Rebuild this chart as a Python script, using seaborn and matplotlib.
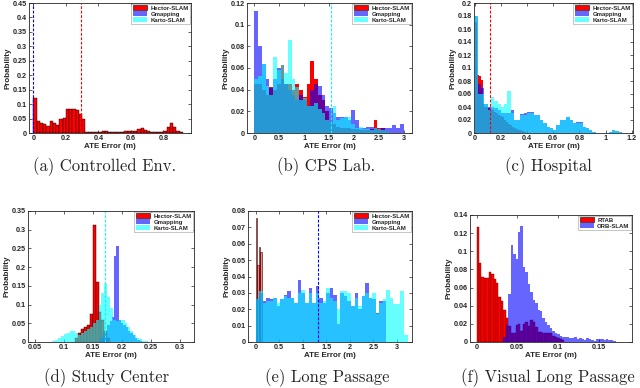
import numpy as np
import pandas as pd
import matplotlib
matplotlib.use("Agg")
import matplotlib.pyplot as plt
import seaborn as sns
from matplotlib.patches import Patch
from matplotlib.ticker import FuncFormatter

# ---- data: probability per bin (bin start / width given where drawn) ----
# (a) Controlled Env.
a_hector = [0.12, 0.04, 0.035, 0.03, 0.025, 0.04, 0.035, 0.027, 0.047, 0.052, 0.083, 0.083,
            0.083, 0.078, 0.065, 0.05, 0.004, 0.004, 0.003, 0.004, 0.004, 0.006, 0.008, 0.005,
            0.003, 0.003, 0.004, 0.003, 0.008, 0.007, 0.006, 0.007, 0.013, 0.016, 0.012, 0.006,
            0.003, 0.004, 0.002, 0.003, 0.006, 0.02, 0.033, 0.022, 0.008, 0.002]

# (b) CPS Lab.
b_hector = [0.045, 0.045, 0.04, 0.035, 0.042, 0.04, 0.045, 0.063, 0.045, 0.045, 0.04, 0.045,
            0.04, 0.033, 0.045, 0.066, 0.05, 0.035, 0.03, 0.02, 0.01, 0.008, 0.006, 0.005,
            0.005, 0.005, 0.004, 0.004, 0.003, 0.003, 0.003, 0.004, 0.012, 0.005, 0.005, 0.002]
b_gmapping = [0.113, 0.08, 0.064, 0.05, 0.042, 0.05, 0.06, 0.05, 0.045, 0.04, 0.035, 0.03,
              0.035, 0.03, 0.025, 0.04, 0.045, 0.043, 0.035, 0.025, 0.023, 0.018, 0.015, 0.015,
              0.015, 0.012, 0.021, 0.012, 0.005, 0.005, 0.006, 0.006, 0.005, 0.004, 0.005, 0.005,
              0.005, 0.007, 0.005, 0.008]
b_karto = [0.05, 0.053, 0.064, 0.043, 0.035, 0.07, 0.058, 0.063, 0.055, 0.086, 0.05, 0.042,
           0.03, 0.032, 0.025, 0.025, 0.028, 0.022, 0.018, 0.012, 0.01, 0.025, 0.012, 0.014,
           0.015, 0.015, 0.008, 0.005, 0.006, 0.004, 0.004, 0.003, 0.005, 0.004, 0.003, 0.002]

# (c) Hospital
c_hector = [0.17, 0.09, 0.087, 0.082, 0.045, 0.04, 0.04, 0.038, 0.036, 0.035, 0.033, 0.03,
            0.028, 0.026, 0.024, 0.02, 0.017, 0.014, 0.012, 0.01, 0.008, 0.006, 0.005, 0.004,
            0.003, 0.002]
c_gmapping = [0.178, 0.076, 0.07, 0.045, 0.04, 0.04, 0.038, 0.035, 0.03, 0.03, 0.03, 0.035,
              0.02, 0.02, 0.029, 0.03, 0.032, 0.032, 0.028, 0.028, 0.02, 0.015, 0.01, 0.007,
              0.005, 0.012, 0.02, 0.02, 0.024, 0.02, 0.015, 0.017, 0.017, 0.01, 0.007, 0.004,
              0.002, 0, 0, 0, 0, 0.002, 0.005, 0.003, 0.001]
c_karto = [0.18, 0.06, 0.06, 0.045, 0.035, 0.055, 0.05, 0.045, 0.04, 0.045, 0.064, 0.03,
           0.02, 0.02, 0.027, 0.028, 0.031, 0.031, 0.027, 0.028, 0.02, 0.015, 0.01, 0.007,
           0.005, 0.012, 0.02, 0.02, 0.024, 0.02, 0.015, 0.016, 0.016, 0.01, 0.007, 0.004,
           0.002, 0, 0, 0, 0, 0.002, 0.004, 0.003, 0.001]

# (d) Study Center
d_hector = [0.01, 0.025, 0.035, 0.04, 0.045, 0.075, 0.313, 0.16, 0.08, 0.06, 0.03, 0.01]
d_gmapping = [0.01, 0.02, 0.03, 0.045, 0.055, 0.068, 0.229, 0.257, 0.06, 0.05, 0.045, 0.04,
              0.03, 0.025, 0.018, 0.012, 0.006, 0.003]
d_karto = [0.002, 0.005, 0.01, 0.015, 0.022, 0.025, 0.03, 0.03, 0.025, 0.02, 0.025, 0.03,
           0.035, 0.04, 0.05, 0.06, 0.1, 0.13, 0.155, 0.12, 0.09, 0.06, 0.055, 0.06, 0.06,
           0.05, 0.04, 0.03, 0.02, 0.012, 0.007, 0.004, 0.002]

# (e) Long Passage
e_hector = [0.076, 0.047, 0.058, 0.055]
e_gmapping = [0.026, 0.03, 0.025, 0.027, 0.026, 0.027, 0.022, 0.026, 0.029, 0.031, 0.027, 0.024,
              0.038, 0.03, 0.024, 0.033, 0.024, 0.034, 0.027, 0.024, 0.03, 0.033, 0.029, 0.011,
              0.03, 0.028, 0.025, 0.022, 0.03, 0.02, 0.028, 0.036, 0.027, 0.026, 0.018, 0.025,
              0.025]
e_karto = [0.026, 0.031, 0.024, 0.025, 0.025, 0.027, 0.024, 0.026, 0.028, 0.027, 0.027, 0.024,
           0.03, 0.032, 0.024, 0.03, 0.024, 0.03, 0.024, 0.025, 0.033, 0.027, 0.025, 0.02,
           0.031, 0.031, 0.03, 0.022, 0.027, 0.022, 0.028, 0.03, 0.027, 0.03, 0.017, 0.024,
           0.026, 0.032, 0.027, 0.023, 0.023, 0.031, 0.004]

# (f) Visual Long Passage
f_rtab = [0.127, 0.087, 0.072, 0.071, 0.071, 0.077, 0.075, 0.07, 0.065, 0.05, 0.045, 0.035,
          0.027, 0.018, 0.01, 0.01, 0.019, 0.02, 0.012, 0.02, 0.022, 0.018, 0.024, 0.022,
          0.017, 0.011, 0.011, 0.01, 0.01, 0.01, 0.01, 0.007, 0.006, 0.004, 0.003, 0.002]
f_orb = [0.005, 0.019, 0.053, 0.107, 0.097, 0.092, 0.121, 0.128, 0.083, 0.077, 0.064, 0.055,
         0.046, 0.043, 0.035, 0.034, 0.026, 0.022, 0.019, 0.015, 0.012, 0.01, 0.009, 0.007,
         0.006, 0.005, 0.006, 0.004, 0.004, 0.005, 0.003, 0.004, 0.003, 0.002, 0.004, 0.003,
         0.002, 0.001, 0.003, 0.003, 0.003, 0.002, 0.003, 0.002, 0.002, 0.001]

captions = ["(a) Controlled Env.", "(b) CPS Lab.", "(c) Hospital",
            "(d) Study Center", "(e) Long Passage", "(f) Visual Long Passage"]
slam_names = ["Hector-SLAM", "Gmapping", "Karto-SLAM"]
visual_names = ["RTAB", "ORB-SLAM"]

RED, BLUE, CYAN = "#ff0000", "#0000ff", "#00ffff"

sns.set_style("ticks")
plt.rcParams['font.family'] = ['Liberation Sans', 'DejaVu Sans']

fig = plt.figure(figsize=(6.4, 3.88), dpi=100)


def pos(l, r, t, b):
    return [l / 640, 1 - b / 388, (r - l) / 640, (b - t) / 388]


def hist(ax, start, width, heights, color, alpha=0.6, edge="none", lw=0.0):
    h = np.asarray(heights, dtype=float)
    edges = start + width * np.arange(len(h) + 1)
    df = pd.DataFrame({"err": edges[:-1] + width / 2, "prob": h})
    sns.histplot(data=df, x="err", weights="prob", bins=list(edges), color=color,
                 alpha=alpha, edgecolor=edge, linewidth=lw, ax=ax)


fmt = FuncFormatter(lambda v, p: "%g" % round(v, 4))


def style(ax, xlim, ylim, xticks, yticks):
    ax.set_xlim(xlim)
    ax.set_ylim(ylim)
    ax.set_xticks(xticks)
    ax.set_yticks(yticks)
    ax.xaxis.set_major_formatter(fmt)
    ax.yaxis.set_major_formatter(fmt)
    ax.tick_params(direction="in", length=2, width=0.5, labelsize=5.2, pad=1.5,
                   top=True, right=True)
    for lab in ax.get_xticklabels() + ax.get_yticklabels():
        lab.set_fontweight("bold")
    for s in ax.spines.values():
        s.set_linewidth(0.6)
    ax.set_xlabel("ATE Error (m)", fontsize=5.8, fontweight="bold", labelpad=1)
    ax.set_ylabel("Probability", fontsize=5.8, fontweight="bold", labelpad=1)


def legend(ax, names, colors):
    handles = []
    for n, c in zip(names, colors):
        if c == RED:
            handles.append(Patch(facecolor=RED, edgecolor="black", linewidth=0.4, label=n))
        else:
            handles.append(Patch(facecolor=matplotlib.colors.to_rgba(c, 0.6),
                                 edgecolor="none", label=n))
    leg = ax.legend(handles=handles, loc="upper right",
                    prop={"size": 4.3, "weight": "bold"}, frameon=True,
                    fancybox=False, edgecolor="0.6", framealpha=1, borderpad=0.3,
                    labelspacing=0.1, handlelength=2.4, handleheight=0.8,
                    handletextpad=0.5, borderaxespad=0.1)
    leg.get_frame().set_linewidth(0.4)


def vline(ax, x, color):
    ax.axvline(x, color=color, linestyle=(0, (2.5, 1.5)), linewidth=0.8)


# (a)
ax = fig.add_axes(pos(29, 191, 3, 133))
hist(ax, 0.0, 0.02, a_hector, RED, alpha=1, edge="black", lw=0.3)
vline(ax, 0.0, BLUE)
vline(ax, 0.29, RED)
style(ax, (-0.027, 0.97), (0, 0.45), np.arange(0, 0.81, 0.2), np.arange(0, 0.451, 0.05))
legend(ax, slam_names, [RED, BLUE, CYAN])

# (b)
ax = fig.add_axes(pos(247, 412, 3, 133))
hist(ax, 0.0, 0.075, b_hector, RED, alpha=1)
hist(ax, 0.0, 0.075, b_gmapping, BLUE)
hist(ax, 0.0, 0.075, b_karto, CYAN)
vline(ax, 1.55, CYAN)
style(ax, (-0.15, 3.17), (0, 0.12), np.arange(0, 3.01, 0.5), np.arange(0, 0.121, 0.02))
legend(ax, slam_names, [RED, BLUE, CYAN])

# (c)
ax = fig.add_axes(pos(474, 633, 3, 133))
hist(ax, 0.0, 0.015, c_hector, RED, alpha=1)
hist(ax, 0.0, 0.025, c_gmapping, BLUE)
hist(ax, 0.0, 0.025, c_karto, CYAN)
vline(ax, 0.117, RED)
style(ax, (-0.005, 1.21), (0, 0.2), np.arange(0, 1.21, 0.2), np.arange(0, 0.201, 0.02))
legend(ax, slam_names, [RED, BLUE, CYAN])

# (d)
ax = fig.add_axes(pos(28, 194, 211, 342))
hist(ax, 0.12, 0.005, d_hector, RED, alpha=1, edge="black", lw=0.3)
hist(ax, 0.163, 0.004, d_gmapping, BLUE)
hist(ax, 0.08, 0.005, d_karto, CYAN)
vline(ax, 0.1705, CYAN)
style(ax, (0.038, 0.325), (0, 0.35), np.arange(0.05, 0.301, 0.05), np.arange(0, 0.351, 0.05))
legend(ax, slam_names, [RED, BLUE, CYAN])

# (e)
ax = fig.add_axes(pos(248, 412, 211, 342))
hist(ax, 0.0, 0.035, e_hector, RED, alpha=0.5, edge="#300000", lw=0.4)
hist(ax, 0.0, 0.075, e_gmapping, BLUE)
hist(ax, 0.0, 0.075, e_karto, CYAN)
vline(ax, 1.33, BLUE)
style(ax, (-0.16, 3.32), (0, 0.08), np.arange(0, 3.01, 0.5), np.arange(0, 0.081, 0.01))
legend(ax, slam_names, [RED, BLUE, CYAN])

# (f)
ax = fig.add_axes(pos(470, 632, 215, 342))
hist(ax, 0.0, 0.003, f_rtab, RED, alpha=1, edge="#700000", lw=0.3)
hist(ax, 0.033, 0.003, f_orb, BLUE)
style(ax, (-0.008, 0.191), (0, 0.14), np.arange(0, 0.151, 0.05), np.arange(0, 0.141, 0.02))
legend(ax, visual_names, [RED, BLUE])

# captions
cap_xy = [(105, 167), (326, 167), (548, 167), (107, 378), (327, 378), (548, 378)]
for (x, y), txt in zip(cap_xy, captions):
    fig.text(x / 640, 1 - y / 388, txt, ha="center", va="center", fontsize=12,
             family="cmr10")

fig.savefig("out.png", dpi=100)
